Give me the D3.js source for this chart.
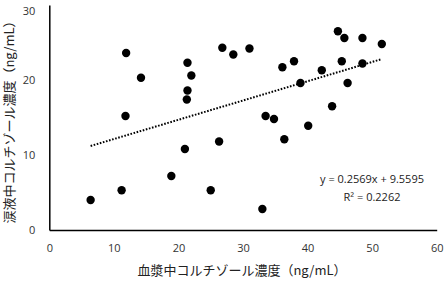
<!DOCTYPE html>
<html><head><meta charset="utf-8">
<script src="https://cdn.jsdelivr.net/npm/d3@7"></script>
<style>body{margin:0;background:#fff;} svg{display:block;}</style>
</head><body>
<script>
const plasmaX = [6.4,11.2,11.9,14.2,11.8,18.9,21.0,21.3,21.4,21.4,22.0,25.0,26.3,26.8,28.5,31.0,33.0,33.5,34.8,36.4,36.1,37.9,38.9,40.1,42.2,43.8,44.7,45.3,45.7,46.2,48.5,48.5,51.5];
const tearY  = [4.0,5.3,23.6,20.3,15.2,7.2,10.8,17.4,18.6,22.3,20.6,5.3,11.8,24.3,23.4,24.2,2.8,15.2,14.8,12.1,21.7,22.5,19.6,13.9,21.3,16.5,26.5,22.5,25.6,19.6,25.6,22.2,24.8];
const xTicks = [0,10,20,30,40,50,60];
const yTicks = [0,10,20,30];
const slope = 0.2569, intercept = 9.5595;
const eqText = "y = 0.2569x + 9.5595";
const r2Text = "R² = 0.2262";
const xTitle = "血漿中コルチゾール濃度（ng/mL）";
const yTitle = "涙液中コルチゾール濃度（ng/mL）";

const W=447,H=281;
const svg=d3.select("body").append("svg").attr("width",W).attr("height",H);
const x=d3.scaleLinear().domain([0,60]).range([49.3,436.7]);
const y=d3.scaleLinear().domain([0,30]).range([230,5]);
const tickFont="'Open Sans','Liberation Sans',sans-serif";

const xa=svg.append("g").attr("transform","translate(0,230)")
  .call(d3.axisBottom(x).tickValues(xTicks).tickSize(0).tickPadding(14).tickFormat(d3.format("d")));
xa.select(".domain").attr("stroke","#000").attr("stroke-width",1.5);
xa.selectAll("text").attr("font-family",tickFont).attr("font-size",11).attr("fill","#333");

const ya=svg.append("g").attr("transform","translate(49.3,0)")
  .call(d3.axisLeft(y).tickValues(yTicks).tickSize(0).tickPadding(14).tickFormat(d3.format("d")));
ya.select(".domain").attr("stroke","#000").attr("stroke-width",1.5);
ya.selectAll("text").attr("font-family",tickFont).attr("font-size",11).attr("fill","#333");
ya.selectAll(".tick").filter(d=>d===30).select("text").attr("dy","0.9em");

const pts=plasmaX.map((v,i)=>({x:v,y:tearY[i]}));
svg.append("g").selectAll("circle").data(pts).join("circle")
  .attr("cx",d=>x(d.x)).attr("cy",d=>y(d.y)).attr("r",4.2).attr("fill","#000");

const x0=d3.min(plasmaX), x1=d3.max(plasmaX);
svg.append("line").attr("x1",x(x0)).attr("y1",y(slope*x0+intercept))
  .attr("x2",x(x1)).attr("y2",y(slope*x1+intercept))
  .attr("stroke","#000").attr("stroke-width",2).attr("stroke-dasharray","1.6,1.6");

svg.append("text").attr("x",372).attr("y",183).attr("text-anchor","middle")
  .attr("font-family",tickFont).attr("font-size",11).attr("fill","#222").text(eqText);
svg.append("text").attr("x",372).attr("y",201).attr("text-anchor","middle")
  .attr("font-family",tickFont).attr("font-size",11).attr("fill","#222").text(r2Text);

const cjk="'Noto Sans CJK JP',sans-serif";
svg.append("text").attr("x",242).attr("y",275).attr("text-anchor","middle")
  .attr("font-family",cjk).attr("font-size",13).attr("fill","#222").text(xTitle);
svg.append("text").attr("transform","translate(14,119) rotate(-90)").attr("text-anchor","middle")
  .attr("font-family",cjk).attr("font-size",13).attr("fill","#222").text(yTitle);
</script>
</body></html>
